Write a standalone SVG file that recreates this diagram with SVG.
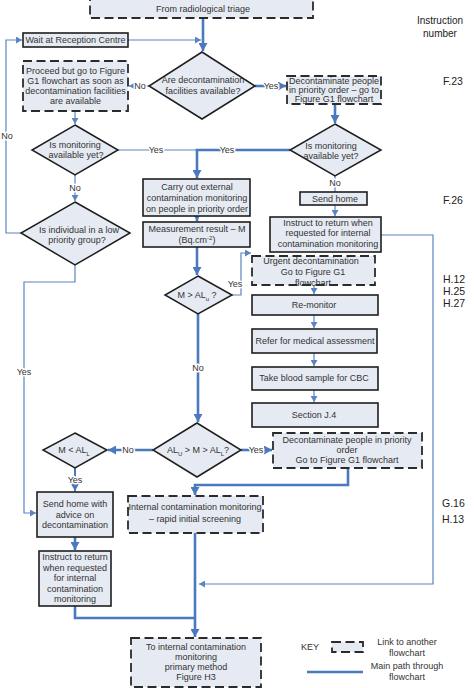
<svg xmlns="http://www.w3.org/2000/svg" width="474" height="688" viewBox="0 0 474 688">
<defs>
<style>
.box{fill:#e6eaf2;stroke:#1e1e1e;stroke-width:1.6}
.dash{fill:#e6eaf2;stroke:#2b2b2b;stroke-width:1.8;stroke-dasharray:9 4.5}
.dia{fill:#e6eaf2;stroke:#1e1e1e;stroke-width:1.5}
text{font-family:"Liberation Sans",Arial,sans-serif;font-size:9px;fill:#333;text-anchor:middle}
.thick{fill:none;stroke:#4a79bd;stroke-width:2.6}
.med{fill:none;stroke:#4a79bd;stroke-width:2}
.thin{fill:none;stroke:#5a84c2;stroke-width:1.2}
.lbl{paint-order:stroke;stroke:#fff;stroke-width:3px;stroke-linejoin:round}
.num{font-size:10.5px;fill:#222;text-anchor:start}
.sub{font-size:6px}
</style>
<marker id="ak" markerUnits="userSpaceOnUse" markerWidth="9" markerHeight="9" refX="8" refY="4.5" orient="auto"><path d="M0,0 L8,4.5 L0,9 z" fill="#4a79bd"/></marker>
<marker id="an" markerUnits="userSpaceOnUse" markerWidth="7" markerHeight="7" refX="6" refY="3.5" orient="auto"><path d="M0,0 L6,3.5 L0,7 z" fill="#5a84c2"/></marker>
</defs>
<rect width="474" height="688" fill="#fff"/>

<g id="connectors">
<path class="thick" d="M203,18 V51" marker-end="url(#ak)"/>
<path class="thin" d="M128,40 H201" marker-end="url(#an)"/>
<path class="thin" d="M149,86 H129" marker-end="url(#an)"/>
<path class="thick" d="M255,86 H286" marker-end="url(#ak)"/>
<path class="thick" d="M335,104 V123" marker-end="url(#ak)"/>
<path class="thin" d="M75,111 V124" marker-end="url(#an)"/>
<path class="thin" d="M118,150 H197"/>
<path class="thick" d="M290,150 H197 V178" marker-end="url(#ak)"/>
<path class="thin" d="M75,175 V201" marker-end="url(#an)"/>
<path class="thin" d="M21,233 H6 V40 H22" marker-end="url(#an)"/>
<path class="thin" d="M75,265 V282 H24 V513 H36" marker-end="url(#an)"/>
<path class="thick" d="M197,216 V221" marker-end="url(#ak)"/>
<path class="thick" d="M197,247 V275" marker-end="url(#ak)"/>
<path class="thin" d="M232,295 H241 V253 H251" marker-end="url(#an)"/>
<path class="thin" d="M314,285 V294" marker-end="url(#an)"/>
<path class="thin" d="M314,315 V328" marker-end="url(#an)"/>
<path class="thin" d="M314,353 V366" marker-end="url(#an)"/>
<path class="thin" d="M314,390 V402" marker-end="url(#an)"/>
<path class="thick" d="M198,314 V422" marker-end="url(#ak)"/>
<path class="thick" d="M241,450 H272" marker-end="url(#ak)"/>
<path class="thick" d="M153,450 H108" marker-end="url(#ak)"/>
<path class="med" d="M75,468 V491" marker-end="url(#ak)"/>
<path class="thick" d="M75,537 V550" marker-end="url(#ak)"/>
<path class="thick" d="M75,606 V618 H195"/>
<path class="thick" d="M348,468 V485 H195 V495" marker-end="url(#ak)"/>
<path class="thick" d="M195,533 V637" marker-end="url(#ak)"/>
<path class="thin" d="M381,235 H433 V584 H199" marker-end="url(#an)"/>
<path class="thin" d="M335,176 V192"/>
<path class="thin" d="M335,205 V216" marker-end="url(#an)"/>
<text class="lbl" x="140" y="89">No</text>
<text class="lbl" x="271" y="89">Yes</text>
<text class="lbl" x="156" y="153">Yes</text>
<text class="lbl" x="227" y="153">Yes</text>
<text class="lbl" x="75" y="191">No</text>
<text class="lbl" x="7" y="139">No</text>
<text class="lbl" x="24" y="375">Yes</text>
<text class="lbl" x="235" y="287">Yes</text>
<text class="lbl" x="198" y="371">No</text>
<text class="lbl" x="256" y="453">Yes</text>
<text class="lbl" x="128" y="453">No</text>
<text class="lbl" x="75" y="483">Yes</text>
<text class="lbl" x="335" y="186">No</text>
</g>

<g id="n_triage"><rect class="dash" x="90" y="-5" width="223" height="23"/><text x="203" y="12">From radiological triage</text></g>
<g id="n_wait"><rect class="box" x="23" y="33" width="105" height="14"/><text x="75.5" y="43">Wait at Reception Centre</text></g>
<g id="d_decon"><polygon class="dia" points="202,52 255,86 202,119 149,86"/><text x="203" y="83">Are decontamination</text><text x="203" y="94">facilities available?</text></g>
<g id="n_proceed"><rect class="dash" x="23" y="61" width="105" height="50"/><text x="75.5" y="74">Proceed but go to Figure</text><text x="75.5" y="84">G1 flowchart as soon as</text><text x="75.5" y="94">decontamination facilities</text><text x="75.5" y="104">are available</text></g>
<g id="n_decon_people"><rect class="dash" x="287" y="76" width="94" height="28"/><text x="334" y="84">Decontaminate people</text><text x="334" y="93">in priority order – go to</text><text x="334" y="102">Figure G1 flowchart</text></g>
<g id="d_mon_left"><polygon class="dia" points="75,125 118,150 75,175 32,150"/><text x="75" y="148">Is monitoring</text><text x="76" y="158">available yet?</text></g>
<g id="d_mon_right"><polygon class="dia" points="335,124 381,150 335,176 290,150"/><text x="331" y="149">Is monitoring</text><text x="331" y="159">available yet?</text></g>
<g id="d_lowprio"><polygon class="dia" points="75,202 130,233 75,265 21,233"/><text x="79" y="233">Is individual in a low</text><text x="77" y="243">priority group?</text></g>
<g id="n_carry"><rect class="box" x="143" y="179" width="107" height="37"/><text x="197" y="190">Carry out external</text><text x="197" y="201">contamination monitoring</text><text x="197" y="212">on people in priority order</text></g>
<g id="n_measure"><rect class="box" x="143" y="222" width="107" height="25"/><text x="197" y="232">Measurement result – M</text><text x="197" y="243">(Bq.cm<tspan class="sub" baseline-shift="super">-2</tspan>)</text></g>
<g id="d_mgtalu"><polygon class="dia" points="198,276 232,295 198,314 165,295"/><text x="197" y="298">M &gt; AL<tspan class="sub" baseline-shift="sub">u</tspan> ?</text></g>
<g id="n_sendhome"><rect class="box" x="300" y="192" width="67" height="13"/><text x="335" y="202">Send home</text></g>
<g id="n_instruct_r"><rect class="box" x="270" y="217" width="111" height="35"/><text x="328" y="226">Instruct to return when</text><text x="328" y="236">requested for internal</text><text x="328" y="247">contamination monitoring</text></g>
<g id="n_urgent"><rect class="dash" x="252" y="256" width="123" height="29"/><text x="311" y="264">Urgent decontamination</text><text x="313" y="275">Go to Figure G1</text><text x="313" y="286">flowchart</text></g>
<g id="n_remonitor"><rect class="box" x="252" y="295" width="126" height="20"/><text x="314" y="308">Re-monitor</text></g>
<g id="n_refer"><rect class="box" x="252" y="329" width="125" height="24"/><text x="315" y="344">Refer for medical assessment</text></g>
<g id="n_blood"><rect class="box" x="252" y="367" width="126" height="23"/><text x="314" y="381">Take blood sample for CBC</text></g>
<g id="n_section"><rect class="box" x="252" y="403" width="126" height="24"/><text x="314" y="418">Section J.4</text></g>
<g id="d_alu"><polygon class="dia" points="197,423 241,450 197,477 153,450"/><text x="198" y="453">AL<tspan class="sub" baseline-shift="sub">U</tspan> &gt; M &gt; AL<tspan class="sub" baseline-shift="sub">L</tspan>?</text></g>
<g id="n_decon_prio"><rect class="dash" x="273" y="433" width="149" height="35"/><text x="347" y="443">Decontaminate people in priority</text><text x="347" y="453">order</text><text x="347" y="463">Go to Figure G1 flowchart</text></g>
<g id="d_mltall"><polygon class="dia" points="75,433 107,450 75,468 43,450"/><text x="74" y="453">M &lt; AL<tspan class="sub" baseline-shift="sub">L</tspan></text></g>
<g id="n_sendadvice"><rect class="box" x="37" y="492" width="76" height="45"/><text x="75" y="507">Send home with</text><text x="75" y="518">advice on</text><text x="75" y="528">decontamination</text></g>
<g id="n_internal"><rect class="dash" x="128" y="496" width="135" height="37"/><text x="195" y="510">Internal contamination monitoring</text><text x="195" y="522">– rapid initial screening</text></g>
<g id="n_instruct_l"><rect class="box" x="39" y="551" width="72" height="55"/><text x="75" y="560">Instruct to return</text><text x="75" y="571">when requested</text><text x="75" y="581">for internal</text><text x="75" y="592">contamination</text><text x="75" y="602">monitoring</text></g>
<g id="n_final"><rect class="dash" x="131" y="638" width="130" height="49"/><text x="196" y="650">To internal contamination</text><text x="196" y="660">monitoring</text><text x="196" y="670">primary method</text><text x="196" y="680">Figure H3</text></g>

<g id="key">
<text x="310" y="650">KEY</text>
<rect class="dash" x="332" y="642" width="31" height="10" stroke-dasharray="6 3"/>
<text x="407" y="645">Link to another</text><text x="407" y="656">flowchart</text>
<path class="thick" d="M307,672 H363"/>
<text x="407" y="669">Main path through</text><text x="407" y="680">flowchart</text>
</g>

<g id="instruction_numbers">
<text x="440" y="24" style="font-size:10px;fill:#222">Instruction</text>
<text x="440" y="37" style="font-size:10px;fill:#222">number</text>
<text class="num" x="443" y="85">F.23</text>
<text class="num" x="443" y="204">F.26</text>
<text class="num" x="443" y="283">H.12</text>
<text class="num" x="443" y="295">H.25</text>
<text class="num" x="443" y="307">H.27</text>
<text class="num" x="442" y="507">G.16</text>
<text class="num" x="442" y="523">H.13</text>
</g>
</svg>
